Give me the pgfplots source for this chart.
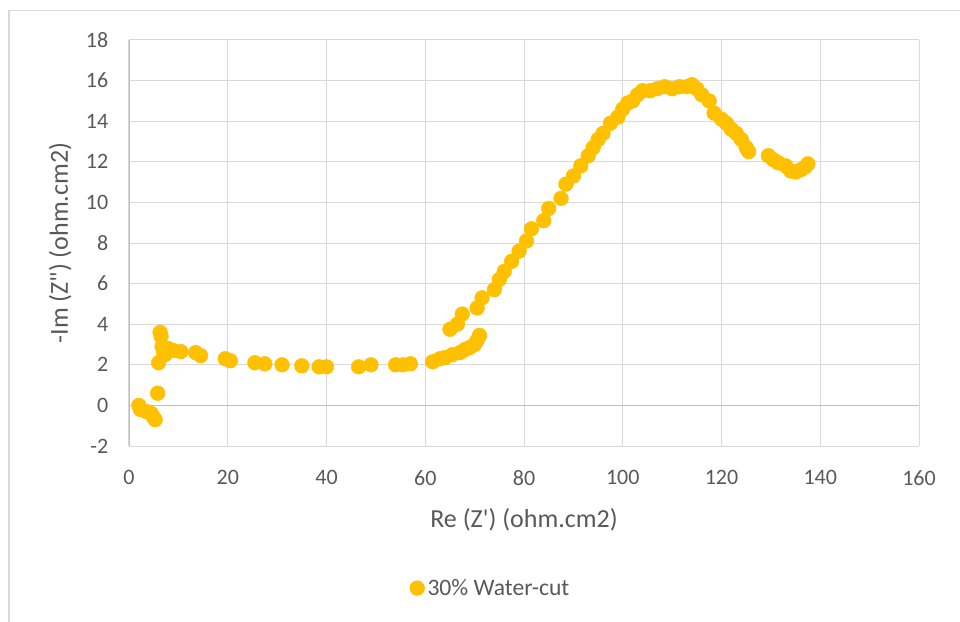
\documentclass[border=0pt]{standalone}
\usepackage{fontspec}
\setmainfont{Carlito}[Ligatures=TeXOff]
\usepackage{pgfplots}
\pgfplotsset{compat=1.18}
\definecolor{gold}{HTML}{FFC000}
\definecolor{gridc}{HTML}{D9D9D9}
\definecolor{axc}{HTML}{BFBFBF}
\definecolor{txt}{HTML}{595959}

\begin{document}
\begin{tikzpicture}[x=1pt,y=1pt]
\useasboundingbox (-96.75,-131.25) rectangle (623.25,334.5);
\draw[gridc, line width=1.1pt] (-90,-140) -- (-90,326.6) -- (640,326.6);
\begin{axis}[
  at={(0,0)}, anchor=south west, scale only axis,
  width=592.5pt, height=304.5pt,
  xmin=0, xmax=160, ymin=-2, ymax=18,
  xtick={0,20,...,160}, ytick={-2,0,...,18},
  grid=major, major grid style={gridc, line width=0.75pt},
  axis line style={draw=none}, tick style={draw=none},
  /pgf/number format/assume math mode=true,
  tick label style={font=\fontsize{16.5}{18}\selectfont, text=txt},
  xticklabel style={yshift=-15pt},
  yticklabel style={xshift=-12pt},
  label style={font=\fontsize{19.5}{22}\selectfont, text=txt},
  xlabel style={yshift=-10pt},
  ylabel style={yshift=4pt},
  xlabel={Re (Z') (ohm.cm2)},
  ylabel={-Im (Z") (ohm.cm2)},
  legend style={at={(0.458,-0.35)}, anchor=center, draw=none, fill=none,
    font=\fontsize{17.7}{20}\selectfont, text=txt},
  legend image code/.code={\fill[gold] (0pt,0pt) circle (5.5pt);},
]
\draw[axc, line width=0.9pt] (axis cs:0,0) -- (axis cs:160,0);
\draw[axc, line width=0.9pt] (axis cs:0,-2) -- (axis cs:0,18);
\addplot[only marks, mark=*, mark size=5.5pt, gold, mark options={draw=gold, fill=gold}] coordinates {
(2,0) (2.3,-0.2) (3.5,-0.3) (4.5,-0.4) (5,-0.6) (5.3,-0.7) (5.8,0.6)
(6,2.1) (6.3,3.6) (6.5,3.4) (6.7,2.9) (7,2.6) (7.3,2.5) (8,2.8) (9,2.7)
(10.5,2.65) (13.5,2.6) (14.5,2.45) (19.5,2.3) (20.5,2.2) (25.5,2.1) (27.5,2.05)
(31,2.0) (35,1.95) (38.5,1.9) (40,1.9) (46.5,1.9) (49,2.0) (54,2.0) (55.5,2.0)
(57,2.05) (61.5,2.15) (63,2.3) (64,2.35) (65.5,2.5) (67,2.6) (68,2.75) (69,2.85)
(70,3.0) (70.5,3.2) (71,3.45)
(65,3.75) (66.5,4.0) (67.5,4.5) (70.5,4.8) (71.5,5.3) (74,5.7) (75,6.2) (76,6.6)
(77.5,7.1) (79,7.6) (80.5,8.1) (81.5,8.7) (84,9.1) (85,9.7) (87.5,10.2) (88.5,10.9)
(90,11.3) (91.5,11.8) (93,12.3) (94,12.7) (95,13.1) (96,13.4) (97.5,13.9) (99,14.2)
(100,14.6) (101,14.9) (102,15.0) (103,15.3) (104,15.5) (105.5,15.5) (107,15.6)
(108.5,15.7) (110,15.6) (111.5,15.7) (113,15.7) (114,15.8) (115,15.6) (116,15.3)
(117.5,15.0) (118.5,14.4) (120,14.1) (121,13.9) (122,13.6) (123,13.4) (124,13.1)
(125,12.7) (125.5,12.5) (129.5,12.3) (130.5,12.1) (131.5,11.95) (133,11.8)
(134,11.55) (135,11.5) (136,11.6) (137,11.75) (137.5,11.9)
};
\addlegendentry{30\% Water-cut}
\end{axis}
\end{tikzpicture}
\end{document}
